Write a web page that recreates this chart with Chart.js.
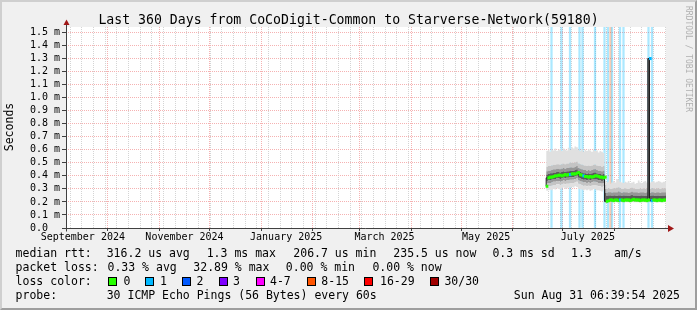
<!DOCTYPE html>
<html><head><meta charset="utf-8">
<script src="https://cdn.jsdelivr.net/npm/chart.js@4.4.1/dist/chart.umd.min.js"></script>
<style>
html,body{margin:0;padding:0;background:#f0f0f0;}
#wrap{position:relative;width:697px;height:310px;background:#f0f0f0;overflow:hidden;font-family:"DejaVu Sans Mono",monospace;color:#000;}
#c{position:absolute;left:0;top:0;}
#frame{position:absolute;left:0;top:0;width:697px;height:310px;box-sizing:border-box;border-style:solid;border-width:2px;border-color:#cfcfcf #9e9e9e #9e9e9e #cfcfcf;pointer-events:none;}
.t{position:absolute;white-space:pre;line-height:1;font-size:11.5px;}
.box{position:absolute;width:9px;height:9px;box-sizing:border-box;border:1px solid #000;}
</style></head>
<body><div id="wrap"><canvas id="c" width="697" height="310"></canvas>
<div id="frame"></div>
<div class="t" style="left:0;width:697px;text-align:center;top:12.8px;font-size:13.2px">Last 360 Days from CoCoDigit-Common to Starverse-Network(59180)</div>
<div class="t" style="left:10px;top:127px;transform:translate(-50%,-50%) rotate(-90deg)">Seconds</div>
<div class="t" style="left:688px;top:59px;font-size:8px;color:#b0b0b0;transform:translate(-50%,-50%) rotate(90deg)">RRDTOOL / TOBI OETIKER</div>

<div class="t" style="left:15.6px;top:248.3px">median rtt:</div>
<div class="t" style="left:106.7px;top:248.3px">316.2 us avg</div>
<div class="t" style="left:206.7px;top:248.3px">1.3 ms max</div>
<div class="t" style="left:293.3px;top:248.3px">206.7 us min</div>
<div class="t" style="left:393.3px;top:248.3px">235.5 us now</div>
<div class="t" style="left:492.4px;top:248.3px">0.3 ms sd</div>
<div class="t" style="left:571px;top:248.3px">1.3</div>
<div class="t" style="left:614px;top:248.3px">am/s</div>

<div class="t" style="left:15.6px;top:262.3px">packet loss:</div>
<div class="t" style="left:107.5px;top:262.3px">0.33 % avg</div>
<div class="t" style="left:193.3px;top:262.3px">32.89 % max</div>
<div class="t" style="left:285.8px;top:262.3px">0.00 % min</div>
<div class="t" style="left:372.4px;top:262.3px">0.00 % now</div>

<div class="t" style="left:15.6px;top:276.3px">loss color:</div>
<div id="losslegend"></div>

<div class="t" style="left:15.6px;top:290.3px">probe:</div>
<div class="t" style="left:106.7px;top:290.3px">30 ICMP Echo Pings (56 Bytes) every 60s</div>
<div class="t" style="left:480px;width:200px;text-align:right;top:290.3px">Sun Aug 31 06:39:54 2025</div>
</div>
<script>
// ---- data (x = days relative to 2024-10-01) ----
const days = [263,264,265,266,267,268,269,270,271,272,273,274,275,276,277,278,279,280,281,282,283,284,285,286,287,288,289,290,291,292,293,294,295,296,297,298,
 299,300,301,302,303,304,305,306,307,308,309,310,311,312,313,314,315,316,317,318,319,320,321,322,323,324,325,326,327,328,329,330,331,332,333,334,335];

const median = [0.32,0.385,0.39,0.39,0.395,0.40,0.40,0.405,0.405,0.40,0.405,0.41,0.405,0.41,0.41,0.415,0.415,0.415,0.42,0.425,0.41,0.405,0.40,0.395,0.395,0.39,0.395,0.39,0.395,0.40,0.40,0.395,0.39,0.39,0.385,0.39,
 0.205,0.21,0.215,0.215,0.21,0.215,0.215,0.21,0.215,0.215,0.21,0.215,0.215,0.215,0.21,0.215,0.22,0.215,0.215,0.215,0.21,0.215,0.215,0.215,0.21,0.215,1.30,0.21,0.215,0.215,0.21,0.215,0.215,0.21,0.215,0.215,0.215];

const smokeU1 = [0.33,0.41,0.415,0.42,0.42,0.425,0.425,0.43,0.43,0.425,0.43,0.435,0.43,0.435,0.435,0.44,0.44,0.44,0.445,0.45,0.435,0.43,0.425,0.42,0.42,0.415,0.42,0.415,0.42,0.425,0.425,0.42,0.415,0.415,0.41,0.415,
 0.27,0.245,0.25,0.25,0.245,0.25,0.25,0.245,0.25,0.25,0.245,0.25,0.25,0.25,0.245,0.25,0.255,0.25,0.25,0.25,0.245,0.25,0.25,0.25,0.245,0.25,1.30,0.245,0.25,0.25,0.245,0.25,0.25,0.245,0.25,0.25,0.25];
const smokeU2 = [0.34,0.435,0.44,0.44,0.445,0.45,0.45,0.455,0.455,0.45,0.455,0.46,0.455,0.46,0.46,0.465,0.465,0.465,0.47,0.475,0.46,0.455,0.45,0.445,0.445,0.44,0.445,0.44,0.445,0.45,0.45,0.445,0.44,0.44,0.435,0.44,
 0.30,0.27,0.275,0.275,0.27,0.275,0.275,0.275,0.28,0.275,0.27,0.275,0.275,0.275,0.27,0.275,0.28,0.275,0.275,0.275,0.27,0.275,0.275,0.275,0.27,0.275,1.30,0.27,0.275,0.275,0.27,0.275,0.275,0.27,0.275,0.275,0.275];
const smokeU3 = [0.345,0.47,0.475,0.475,0.48,0.485,0.485,0.49,0.49,0.485,0.49,0.495,0.49,0.495,0.495,0.50,0.50,0.50,0.505,0.51,0.495,0.49,0.485,0.48,0.48,0.475,0.48,0.475,0.48,0.485,0.485,0.48,0.475,0.475,0.47,0.475,
 0.33,0.30,0.305,0.30,0.30,0.305,0.305,0.31,0.31,0.305,0.30,0.30,0.305,0.30,0.30,0.305,0.31,0.305,0.30,0.30,0.30,0.305,0.30,0.305,0.30,0.305,1.30,0.30,0.305,0.305,0.30,0.305,0.305,0.30,0.305,0.305,0.305];
const smokeMax = [0.35,0.59,0.60,0.585,0.60,0.595,0.61,0.59,0.60,0.605,0.59,0.61,0.60,0.595,0.615,0.60,0.62,0.61,0.625,0.62,0.60,0.59,0.605,0.585,0.60,0.59,0.605,0.595,0.585,0.60,0.59,0.595,0.58,0.59,0.585,0.575,
 0.36,0.35,0.355,0.34,0.35,0.36,0.35,0.375,0.37,0.355,0.35,0.345,0.355,0.35,0.36,0.345,0.35,0.355,0.34,0.345,0.365,0.35,0.345,0.355,0.36,0.35,1.30,0.35,0.355,0.36,0.35,0.355,0.36,0.355,0.35,0.355,0.355];
const smokeL1 = [0.30,0.36,0.365,0.365,0.37,0.375,0.375,0.38,0.38,0.375,0.38,0.385,0.38,0.385,0.385,0.39,0.39,0.39,0.395,0.40,0.385,0.38,0.375,0.37,0.37,0.365,0.37,0.365,0.37,0.375,0.375,0.37,0.365,0.365,0.36,0.365,
 0.20,0.205,0.208,0.208,0.205,0.208,0.208,0.205,0.208,0.208,0.205,0.208,0.208,0.208,0.205,0.208,0.212,0.208,0.208,0.208,0.205,0.208,0.208,0.208,0.205,0.208,0.23,0.205,0.208,0.208,0.205,0.208,0.208,0.205,0.208,0.208,0.208];
const smokeL2 = [0.29,0.34,0.345,0.345,0.35,0.355,0.355,0.36,0.36,0.355,0.36,0.365,0.36,0.365,0.365,0.37,0.37,0.37,0.375,0.38,0.365,0.36,0.355,0.35,0.35,0.345,0.35,0.345,0.35,0.355,0.355,0.35,0.345,0.345,0.34,0.345,
 0.198,0.202,0.204,0.204,0.202,0.204,0.204,0.202,0.204,0.204,0.202,0.204,0.204,0.204,0.202,0.204,0.207,0.204,0.204,0.204,0.202,0.204,0.204,0.204,0.202,0.204,0.22,0.202,0.204,0.204,0.202,0.204,0.204,0.202,0.204,0.204,0.204];
const smokeL3 = [0.28,0.315,0.32,0.32,0.325,0.33,0.33,0.335,0.335,0.33,0.335,0.34,0.335,0.34,0.34,0.345,0.345,0.345,0.35,0.355,0.34,0.335,0.33,0.325,0.325,0.32,0.325,0.32,0.325,0.33,0.33,0.325,0.32,0.32,0.315,0.32,
 0.196,0.2,0.201,0.201,0.2,0.201,0.201,0.2,0.201,0.201,0.2,0.201,0.201,0.201,0.2,0.201,0.203,0.201,0.201,0.201,0.2,0.201,0.201,0.201,0.2,0.201,0.21,0.2,0.201,0.201,0.2,0.201,0.201,0.2,0.201,0.201,0.201];
const smokeMin = [0.27,0.285,0.29,0.295,0.29,0.30,0.295,0.305,0.30,0.295,0.305,0.31,0.30,0.305,0.31,0.31,0.315,0.31,0.32,0.315,0.30,0.30,0.295,0.29,0.295,0.29,0.295,0.285,0.29,0.30,0.295,0.29,0.29,0.285,0.28,0.29,
 0.194,0.197,0.198,0.198,0.197,0.198,0.198,0.197,0.198,0.198,0.197,0.198,0.198,0.198,0.197,0.198,0.2,0.198,0.198,0.198,0.197,0.198,0.198,0.198,0.197,0.198,0.205,0.197,0.198,0.198,0.197,0.198,0.198,0.197,0.198,0.198,0.198];

const medianLoss = [0,0,0,0,0,0,0,0,0,0,0,0,0,0,1,0,0,0,0,0,0,0,1,0,0,0,0,0,0,0,0,0,0,0,0,0,0,0,0,0,0,0,0,0,1,0,0,0,0,0,0,0,0,0,0,0,0,0,0,0,0,0,1,1,0,0,0,0,0,0,0,0,0];

const lossBarDays  = [266.2,272.2,277.3,283.0,284.8,292.3,298.0,300.1,301.6,302.5,307.3,309.4,324.4,326.5];
const lossBarLevel = [1,1,1,1,1,1,1,1,5,1,1,1,1,1];

const lossLabels = ['0','1','2','3','4-7','8-15','16-29','30/30'];
const lossColors = ['#26ff00','#00b8ff','#0059ff','#7e00ff','#ff00ff','#ff5500','#ff0000','#a00000'];
const lossBgColors = ['rgba(38,255,0,0.33)','rgba(0,184,255,0.33)','rgba(0,89,255,0.33)','rgba(126,0,255,0.33)','rgba(255,0,255,0.33)','rgba(255,85,0,0.3)','rgba(255,0,0,0.33)','rgba(160,0,0,0.33)'];

// axis / tick definitions
const X_MIN = -25.1, X_MAX = 334.9, Y_MAX = 1.542;
const yTicks = [0,0.1,0.2,0.3,0.4,0.5,0.6,0.7,0.8,0.9,1.0,1.1,1.2,1.3,1.4,1.5];
const monthStarts = [0,31,61,92,123,151,182,212,243,273,304];
const monthLabelDays = [-15,46,107,166,227,288];
const monthLabels = ['September 2024','November 2024','January 2025','March 2025','May 2025','July 2025'];
const firstWeekLine = -22.7;

// ---- legend boxes ----
const boxX = [108,145,182,219,256,307,364,430];
const labX = [123.5,160,196.4,233,270,321.3,380,444.4];
const ll = document.getElementById('losslegend');
lossLabels.forEach((l,i)=>{
  const b = document.createElement('div'); b.className='box';
  b.style.left = boxX[i]+'px'; b.style.top='277px'; b.style.background = lossColors[i];
  ll.appendChild(b);
  const t = document.createElement('div'); t.className='t';
  t.style.left = labX[i]+'px'; t.style.top='276.3px'; t.textContent = l;
  ll.appendChild(t);
});

// ---- chart ----
const PLOT_H = 201;
const medianHalf = 1.2 * Y_MAX / PLOT_H;
const pts = arr => days.map((d,i)=>({x:d, y:arr[i]}));

const xTickList = [];
for (let w = firstWeekLine; w < X_MAX; w += 7) if (w > X_MIN) xTickList.push({value:w, kind:'minor'});
monthStarts.forEach(m => xTickList.push({value:m, kind:'major'}));
monthLabelDays.forEach((m,i) => xTickList.push({value:m, kind:'label', text:monthLabels[i]}));
xTickList.sort((a,b)=>a.value-b.value);

const MAJOR = '#f5b2b2', MINOR = '#d4d4d4';

const axesPlugin = {
  id:'axesPlugin',
  beforeDraw(chart){
    const {ctx, chartArea:a} = chart;
    ctx.save(); ctx.fillStyle='#fff';
    ctx.fillRect(a.left, a.top, a.right-a.left, a.bottom-a.top);
    ctx.restore();
  },
  afterDraw(chart){
    const {ctx, chartArea:a} = chart;
    const x0 = Math.round(a.left)+0.5, y0 = Math.round(a.bottom)+0.5;
    ctx.save();
    ctx.lineWidth = 1; ctx.strokeStyle = '#404040';
    ctx.beginPath(); ctx.moveTo(x0, y0+3); ctx.lineTo(x0, a.top-5); ctx.stroke();
    ctx.beginPath(); ctx.moveTo(x0-4, y0); ctx.lineTo(a.right+3, y0); ctx.stroke();
    ctx.fillStyle = '#a01818';
    ctx.beginPath(); ctx.moveTo(x0-3, a.top-2); ctx.lineTo(x0+3, a.top-2); ctx.lineTo(x0, a.top-7.5); ctx.closePath(); ctx.fill();
    ctx.beginPath(); ctx.moveTo(a.right+2, y0-3.5); ctx.lineTo(a.right+2, y0+3.5); ctx.lineTo(a.right+8, y0); ctx.closePath(); ctx.fill();
    ctx.restore();
  }
};

const smokeDefs = [
  [smokeMin, false, 'rgba(0,0,0,0)'],
  [smokeL3, '-1', '#e0e0e0'],
  [smokeL2, '-1', '#c4c4c4'],
  [smokeL1, '-1', '#969696'],
  [median,  '-1', '#5a5a5a'],
  [smokeU1, '-1', '#5a5a5a'],
  [smokeU2, '-1', '#969696'],
  [smokeU3, '-1', '#c4c4c4'],
  [smokeMax,'-1', '#e0e0e0'],
];
const smokeSets = smokeDefs.map(([arr, fill, col]) => ({
  type:'line', data: pts(arr), stepped:'after', fill: fill, backgroundColor: col,
  borderWidth:0, borderColor:'rgba(0,0,0,0)', pointRadius:0, order:5
}));

const datasets = [
  { type:'bar', data: lossBarDays.map((d,i)=>({x:d, y:[0, Y_MAX]})),
    backgroundColor: lossBarLevel.map(l=>lossBgColors[l]), barThickness:1.6, grouped:false, borderWidth:0, order:10 },
  ...smokeSets,
  { type:'line', data: pts(median), stepped:'after', fill:false, borderColor:'#202020', borderWidth:1, pointRadius:0, order:2 },
  { type:'bar', data: days.map((d,i)=>({x:d+0.5, y:[median[i]-medianHalf, median[i]+medianHalf]})),
    backgroundColor: medianLoss.map(l=>lossColors[l]), barThickness:2, grouped:false, borderWidth:0, order:1 }
];

new Chart(document.getElementById('c'), {
  type:'line',
  data:{ datasets },
  plugins:[axesPlugin],
  options:{
    responsive:false, animation:false, devicePixelRatio:1, events:[],
    layout:{ padding:{ left:0, top:27, right:31, bottom:62 } },
    plugins:{ legend:{display:false}, tooltip:{enabled:false}, title:{display:false} },
    scales:{
      x:{ type:'linear', min:X_MIN, max:X_MAX, offset:false, z:1,
        afterBuildTicks: s => { s.ticks = xTickList.map(t=>({...t})); },
        afterFit: s => { s.height = 20; s.paddingLeft = 0; s.paddingRight = 0; },
        ticks:{ autoSkip:false, maxRotation:0, minRotation:0, padding:0, color:'#000',
          font:{family:'DejaVu Sans Mono', size:10},
          callback:(v,i,ticks)=> ticks[i].kind==='label' ? ticks[i].text : '' },
        grid:{ offset:false, lineWidth:1, drawTicks:true, tickLength:3,
          color: c => c.tick ? (c.tick.kind==='major' ? MAJOR : c.tick.kind==='minor' ? MINOR : 'rgba(0,0,0,0)') : MINOR,
          tickColor: c => (c.tick && c.tick.kind==='major') ? '#404040' : 'rgba(0,0,0,0)' },
        border:{ display:false, dash:[1,1] }
      },
      y:{ type:'linear', min:0, max:Y_MAX, z:1,
        afterBuildTicks: s => { s.ticks = yTicks.map(v=>({value:v})); },
        afterFit: s => { s.width = 66; s.paddingTop = 0; s.paddingBottom = 0; },
        ticks:{ autoSkip:false, padding:2, color:'#000', font:{family:'DejaVu Sans Mono', size:10},
          callback: v => v === 0 ? '0.0  ' : v.toFixed(1)+' m' },
        grid:{ offset:false, lineWidth:1, color: MAJOR, drawTicks:true, tickLength:4, tickColor:'#404040' },
        border:{ display:false, dash:[1,1] }
      }
    }
  }
});
</script>
</body></html>
